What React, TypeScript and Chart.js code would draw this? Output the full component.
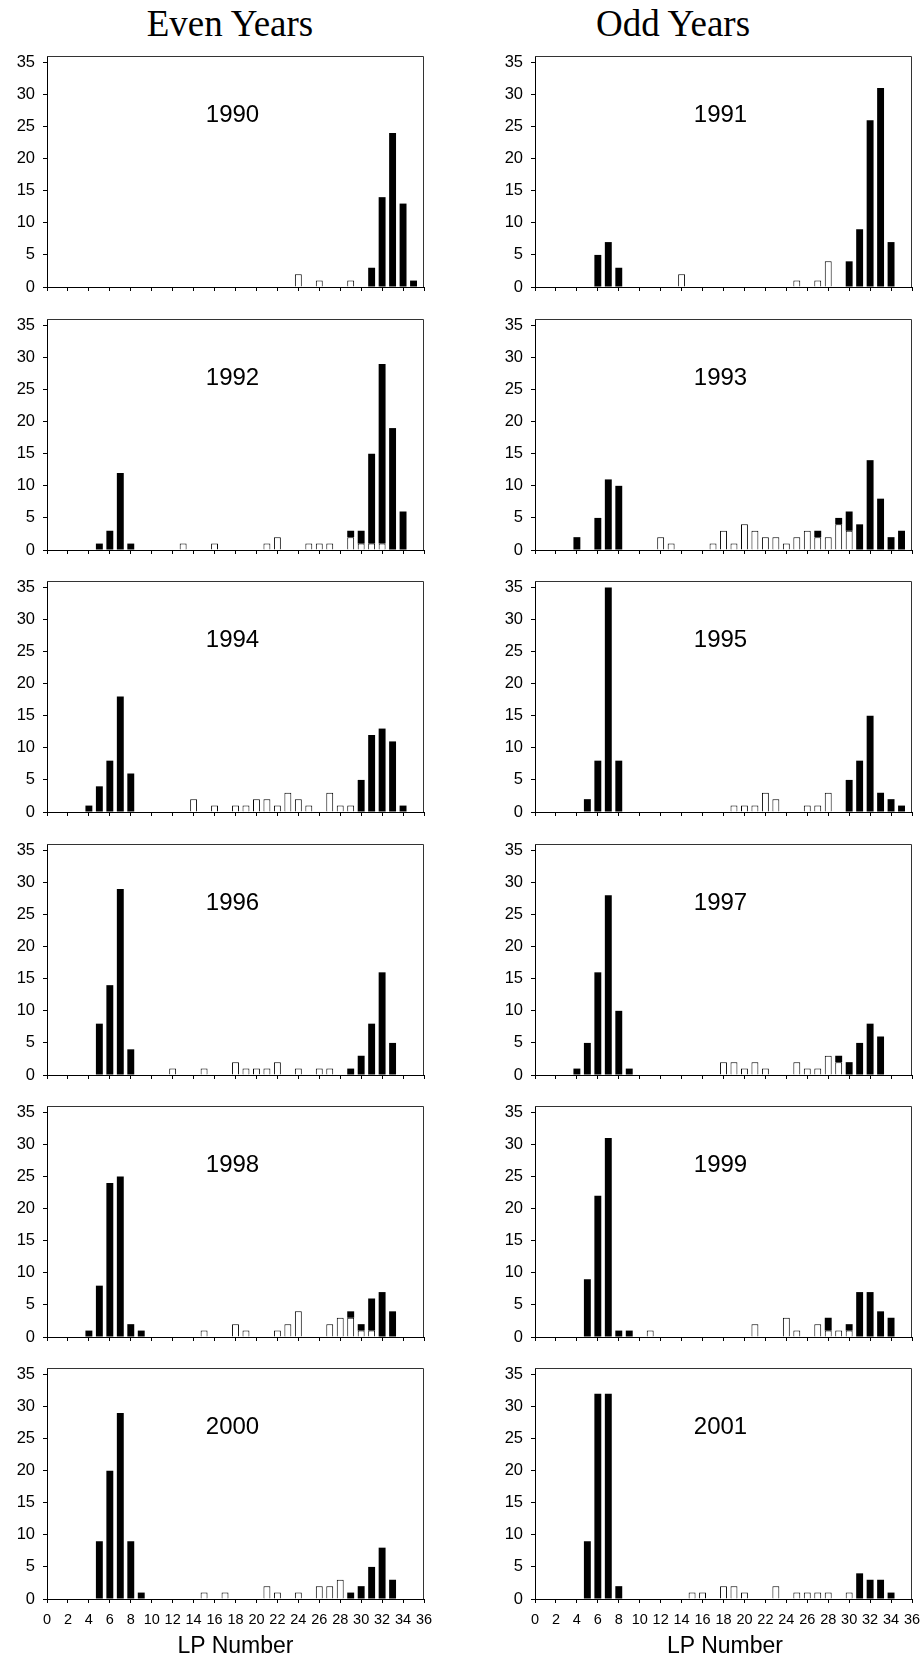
import React, { useEffect, useRef } from 'react';
import { Chart, registerables } from 'chart.js';

Chart.register(...registerables);

// ---------- data ----------
const lpLabels = ['0','1','2','3','4','5','6','7','8','9','10','11','12','13','14','15','16','17','18','19','20','21','22','23','24','25','26','27','28','29','30','31','32','33','34','35','36'];

// [LP number, count] pairs; open = white bars (bottom of stack), solid = black bars
const open1990 = [[24,2],[26,1],[29,1]];
const solid1990 = [[31,3],[32,14],[33,24],[34,13],[35,1]];
const open1991 = [[14,2],[25,1],[27,1],[28,4]];
const solid1991 = [[6,5],[7,7],[8,3],[30,4],[31,9],[32,26],[33,31],[34,7]];
const open1992 = [[13,1],[16,1],[21,1],[22,2],[25,1],[26,1],[27,1],[29,2],[30,1],[31,1],[32,1]];
const solid1992 = [[5,1],[6,3],[7,12],[8,1],[29,1],[30,2],[31,14],[32,28],[33,19],[34,6]];
const open1993 = [[12,2],[13,1],[17,1],[18,3],[19,1],[20,4],[21,3],[22,2],[23,2],[24,1],[25,2],[26,3],[27,2],[28,2],[29,4],[30,3]];
const solid1993 = [[4,2],[6,5],[7,11],[8,10],[27,1],[29,1],[30,3],[31,4],[32,14],[33,8],[34,2],[35,3]];
const open1994 = [[14,2],[16,1],[18,1],[19,1],[20,2],[21,2],[22,1],[23,3],[24,2],[25,1],[27,3],[28,1],[29,1]];
const solid1994 = [[4,1],[5,4],[6,8],[7,18],[8,6],[30,5],[31,12],[32,13],[33,11],[34,1]];
const open1995 = [[19,1],[20,1],[21,1],[22,3],[23,2],[26,1],[27,1],[28,3]];
const solid1995 = [[5,2],[6,8],[7,35],[8,8],[30,5],[31,8],[32,15],[33,3],[34,2],[35,1]];
const open1996 = [[12,1],[15,1],[18,2],[19,1],[20,1],[21,1],[22,2],[24,1],[26,1],[27,1]];
const solid1996 = [[5,8],[6,14],[7,29],[8,4],[29,1],[30,3],[31,8],[32,16],[33,5]];
const open1997 = [[18,2],[19,2],[20,1],[21,2],[22,1],[25,2],[26,1],[27,1],[28,3],[29,2]];
const solid1997 = [[4,1],[5,5],[6,16],[7,28],[8,10],[9,1],[29,1],[30,2],[31,5],[32,8],[33,6]];
const open1998 = [[15,1],[18,2],[19,1],[22,1],[23,2],[24,4],[27,2],[28,3],[29,3],[30,1],[31,1]];
const solid1998 = [[4,1],[5,8],[6,24],[7,25],[8,2],[9,1],[29,1],[30,1],[31,5],[32,7],[33,4]];
const open1999 = [[11,1],[21,2],[24,3],[25,1],[27,2],[28,1],[29,1],[30,1]];
const solid1999 = [[5,9],[6,22],[7,31],[8,1],[9,1],[28,2],[30,1],[31,7],[32,7],[33,4],[34,3]];
const open2000 = [[15,1],[17,1],[21,2],[22,1],[24,1],[26,2],[27,2],[28,3]];
const solid2000 = [[5,9],[6,20],[7,29],[8,9],[9,1],[29,1],[30,2],[31,5],[32,8],[33,3]];
const open2001 = [[15,1],[16,1],[18,2],[19,2],[20,1],[23,2],[25,1],[26,1],[27,1],[28,1],[30,1]];
const solid2001 = [[5,9],[6,32],[7,32],[8,2],[31,4],[32,3],[33,3],[34,1]];

const yearLabels = ['1990','1991','1992','1993','1994','1995','1996','1997','1998','1999','2000','2001'];
const openSeries = [open1990, open1991, open1992, open1993, open1994, open1995, open1996, open1997, open1998, open1999, open2000, open2001];
const solidSeries = [solid1990, solid1991, solid1992, solid1993, solid1994, solid1995, solid1996, solid1997, solid1998, solid1999, solid2000, solid2001];

const columnTitles = ['Even Years', 'Odd Years'];
const xAxisTitle = 'LP Number';

// ---------- layout ----------
const SANS = '"Liberation Sans", Arial, sans-serif';
const SERIF = '"Liberation Serif", "Times New Roman", serif';
const PLOT_H = 231;
const PAD_TOP = 20;
const ROW_BOTTOMS = [287, 550, 812, 1075, 1337, 1599];
const COLS = [
  { left: 0, width: 462, yAxisW: 47, padRight: 38 },
  { left: 462, width: 462, yAxisW: 73, padRight: 12 },
];

function toSeries(pairs: number[][]): (number | null)[] {
  const out: (number | null)[] = lpLabels.map(() => null);
  pairs.forEach(([lp, v]) => { out[lp] = v; });
  return out;
}

const framePlugin = {
  id: 'frame',
  afterDraw(chart: any) {
    const { ctx, chartArea } = chart;
    ctx.save();
    ctx.strokeStyle = '#333';
    ctx.lineWidth = 1;
    ctx.beginPath();
    ctx.moveTo(chartArea.left, chartArea.top + 0.5);
    ctx.lineTo(chartArea.right - 0.5, chartArea.top + 0.5);
    ctx.lineTo(chartArea.right - 0.5, chartArea.bottom);
    ctx.stroke();
    ctx.restore();
  },
};

function Panel({ index }: { index: number }) {
  const ref = useRef<HTMLCanvasElement>(null);
  const col = COLS[index % 2];
  const row = Math.floor(index / 2);
  const isBottom = row === 5;
  const bottomExtra = isBottom ? 1661 - ROW_BOTTOMS[row] : 10;
  const top = ROW_BOTTOMS[row] - PLOT_H - PAD_TOP;
  const height = PAD_TOP + PLOT_H + bottomExtra;
  const xAxisH = isBottom ? 30 : 6;

  useEffect(() => {
    if (!ref.current) return;
    const chart = new Chart(ref.current, {
      type: 'bar',
      data: {
        labels: lpLabels,
        datasets: [
          {
            label: 'open',
            data: toSeries(openSeries[index]),
            backgroundColor: '#ffffff',
            borderColor: '#000000',
            borderWidth: 1,
            borderSkipped: 'start',
          },
          {
            label: 'solid',
            data: toSeries(solidSeries[index]),
            backgroundColor: '#000000',
            borderWidth: 0,
          },
        ],
      },
      options: {
        animation: false,
        responsive: false,
        maintainAspectRatio: false,
        events: [],
        layout: {
          autoPadding: false,
          padding: { left: 0, right: col.padRight, top: PAD_TOP, bottom: bottomExtra - xAxisH },
        },
        datasets: { bar: { categoryPercentage: 1, barPercentage: 0.66 } },
        plugins: { legend: { display: false }, tooltip: { enabled: false }, title: { display: false } },
        scales: {
          x: {
            type: 'category',
            stacked: true,
            offset: false,
            grid: {
              offset: false,
              drawOnChartArea: false,
              drawTicks: true,
              tickLength: 4,
              color: (c: any) => (c.index % 2 === 0 ? '#000000' : 'rgba(0,0,0,0)'),
            },
            border: { display: true, color: '#000000', width: 1 },
            ticks: {
              display: isBottom,
              autoSkip: false,
              maxRotation: 0,
              minRotation: 0,
              padding: 8,
              color: '#000000',
              font: { family: SANS, size: 14.5 },
              callback: (_v: any, i: number) => (i % 2 === 0 ? lpLabels[i] : ''),
            },
            afterFit: (s: any) => { s.height = xAxisH; s.paddingLeft = 0; s.paddingRight = 0; },
          },
          y: {
            stacked: true,
            min: 0,
            max: 36,
            grid: { drawOnChartArea: false, drawTicks: true, tickLength: 4, color: '#000000' },
            border: { display: true, color: '#000000', width: 1 },
            ticks: {
              stepSize: 5,
              includeBounds: false,
              padding: 8,
              color: '#000000',
              font: { family: SANS, size: 16.5 },
            },
            afterFit: (s: any) => { s.width = col.yAxisW; s.paddingTop = 0; s.paddingBottom = 0; },
          },
        },
      },
      plugins: [framePlugin],
    } as any);
    return () => chart.destroy();
  }, [index]);

  const plotLeft = col.yAxisW;
  const plotRight = col.width - col.padRight;
  const plotCenter = (plotLeft + plotRight) / 2 - 3;
  const yearBaseline = PAD_TOP + PLOT_H - 165;

  return (
    <div style={{ position: 'absolute', left: col.left, top, width: col.width, height }}>
      <canvas ref={ref} width={col.width} height={height} style={{ display: 'block' }} />
      <div
        style={{
          position: 'absolute',
          left: plotCenter - 60,
          width: 120,
          top: yearBaseline - 20.3,
          textAlign: 'center',
          fontFamily: SANS,
          fontSize: 24,
          lineHeight: '24px',
          color: '#000',
        }}
      >
        {yearLabels[index]}
      </div>
    </div>
  );
}

export default function App() {
  useEffect(() => {
    document.body.style.margin = '0';
  }, []);
  const titleSize = 37;
  const titleTop = 36 - 0.8375 * titleSize;
  return (
    <div style={{ position: 'absolute', left: 0, top: 0, width: 924, height: 1661, background: '#fff', overflow: 'hidden' }}>
      <div style={{ position: 'absolute', left: 230 - 150, width: 300, top: titleTop, textAlign: 'center', fontFamily: SERIF, fontSize: titleSize, lineHeight: `${titleSize}px`, color: '#000' }}>
        {columnTitles[0]}
      </div>
      <div style={{ position: 'absolute', left: 673 - 150, width: 300, top: titleTop, textAlign: 'center', fontFamily: SERIF, fontSize: titleSize, lineHeight: `${titleSize}px`, color: '#000' }}>
        {columnTitles[1]}
      </div>
      {yearLabels.map((y, i) => (
        <Panel key={y} index={i} />
      ))}
      <div style={{ position: 'absolute', left: 235.5 - 100, width: 200, top: 1653 - 19.5, textAlign: 'center', fontFamily: SANS, fontSize: 23, lineHeight: '23px', color: '#000' }}>
        {xAxisTitle}
      </div>
      <div style={{ position: 'absolute', left: 725 - 100, width: 200, top: 1653 - 19.5, textAlign: 'center', fontFamily: SANS, fontSize: 23, lineHeight: '23px', color: '#000' }}>
        {xAxisTitle}
      </div>
    </div>
  );
}
